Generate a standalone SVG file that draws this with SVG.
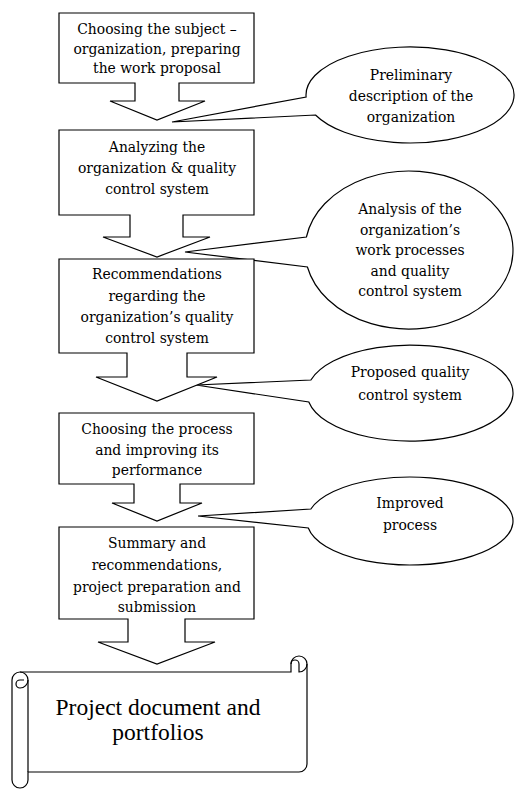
<svg xmlns="http://www.w3.org/2000/svg" width="515" height="789" viewBox="0 0 515 789">
  <style>
    .shape { fill: #ffffff; stroke: #000000; stroke-width: 1.2; stroke-linejoin: miter; }
    .detail { fill: none; stroke: #000000; stroke-width: 1.2; }
    .t { font-family: "DejaVu Serif", "Liberation Serif", serif; font-size: 13.9px; fill: #000000; text-anchor: middle; }
    .big { font-family: "Liberation Serif", "Times New Roman", serif; font-size: 23.5px; fill: #000000; text-anchor: middle; }
  </style>
  <rect width="515" height="789" fill="#ffffff"/>

  <!-- speech-bubble callouts pointing at the arrow tips -->
  <g id="connectors">
    <g id="note-preliminary">
      <path class="shape" d="M 306.1,97 A 104 48 0 1 1 315.5,115 L 172,122 Z"/>
      <text class="t" x="411" y="80">Preliminary</text>
      <text class="t" x="411" y="101">description of the</text>
      <text class="t" x="411" y="122">organization</text>
    </g>
    <g id="note-analysis">
      <path class="shape" d="M 306.4,237 A 104 79 0 1 1 307.4,267 L 185,252 Z"/>
      <text class="t" x="410" y="214">Analysis of the</text>
      <text class="t" x="410" y="234.5">organization’s</text>
      <text class="t" x="410" y="255">work processes</text>
      <text class="t" x="410" y="275.5">and quality</text>
      <text class="t" x="410" y="296">control system</text>
    </g>
    <g id="note-proposed">
      <path class="shape" d="M 310.9,380 A 103 48 0 1 1 308.8,402 L 196,385 Z"/>
      <text class="t" x="410" y="377">Proposed quality</text>
      <text class="t" x="410" y="400">control system</text>
    </g>
    <g id="note-improved">
      <path class="shape" d="M 310.9,509 A 103 44 0 1 1 308.3,528 L 198,516 Z"/>
      <text class="t" x="410" y="508">Improved</text>
      <text class="t" x="410" y="530">process</text>
    </g>
  </g>

  <!-- process steps: boxes with a down arrow underneath -->
  <g id="step1">
    <path class="shape" d="M 59,13 H 254 V 83 H 179 V 101 H 205 L 157,120 L 110,101 H 135 V 83 H 59 Z"/>
    <text class="t" x="157" y="34">Choosing the subject –</text>
    <text class="t" x="157" y="53.5">organization, preparing</text>
    <text class="t" x="157" y="73">the work proposal</text>
  </g>
  <g id="step2">
    <path class="shape" d="M 59,130 H 254 V 215 H 183 V 237 H 210 L 157,257 L 103,237 H 130 V 215 H 59 Z"/>
    <text class="t" x="157" y="152">Analyzing the</text>
    <text class="t" x="157" y="173">organization &amp; quality</text>
    <text class="t" x="157" y="194">control system</text>
  </g>
  <g id="step3">
    <path class="shape" d="M 59,259 H 254 V 353 H 187 V 377 H 217 L 157,401 L 96,377 H 127 V 353 H 59 Z"/>
    <text class="t" x="157" y="279">Recommendations</text>
    <text class="t" x="157" y="300.5">regarding the</text>
    <text class="t" x="157" y="322">organization’s quality</text>
    <text class="t" x="157" y="343">control system</text>
  </g>
  <g id="step4">
    <path class="shape" d="M 59,413 H 254 V 484 H 180 V 503 H 202 L 157,521 L 112,503 H 134 V 484 H 59 Z"/>
    <text class="t" x="157" y="434">Choosing the process</text>
    <text class="t" x="157" y="455">and improving its</text>
    <text class="t" x="157" y="475">performance</text>
  </g>
  <g id="step5">
    <path class="shape" d="M 59,527 H 254 V 619 H 185 V 642 H 215 L 157,664 L 98,642 H 128 V 619 H 59 Z"/>
    <text class="t" x="157" y="548">Summary and</text>
    <text class="t" x="157" y="570">recommendations,</text>
    <text class="t" x="157" y="592">project preparation and</text>
    <text class="t" x="157" y="612">submission</text>
  </g>

  <!-- final deliverable drawn as a horizontal scroll -->
  <g id="deliverable">
    <path class="shape" d="M 307,764 L 307,664 A 8 8 0 0 0 291,664 L 291,672 L 20,672 A 8 8 0 0 0 12,680 L 12,780 A 8 8 0 0 0 28,780 L 28,772 L 299,772 A 8 8 0 0 0 307,764 Z"/>
    <path class="detail" d="M 307,664 A 8 8 0 0 1 299,672 L 299,664 A 4 4 0 0 0 291,664"/>
    <path class="detail" d="M 20,672 A 8 8 0 0 1 28,680 L 28,772"/>
    <path class="detail" d="M 28,680 A 8 8 0 0 1 20,688 A 4 4 0 0 1 20,680 L 24,680"/>
    <text class="big" x="158" y="715">Project document and</text>
    <text class="big" x="158" y="740">portfolios</text>
  </g>
</svg>
